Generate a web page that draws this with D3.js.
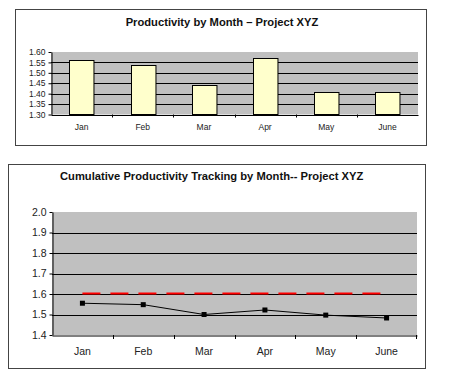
<!DOCTYPE html>
<html>
<head>
<meta charset="utf-8">
<script src="https://cdn.jsdelivr.net/npm/d3@7"></script>
<style>
  body { margin: 0; background: #fff; }
  svg { display: block; font-family: "Liberation Sans", Arial, sans-serif; }
</style>
</head>
<body>
<svg id="chart" width="450" height="372"></svg>
<script>
// data
const months = ["Jan", "Feb", "Mar", "Apr", "May", "June"];
const monthlyProductivity = [1.56, 1.54, 1.44, 1.57, 1.41, 1.41];
const cumulativeProductivity = [1.555, 1.548, 1.50, 1.522, 1.497, 1.483];
const targetValue = 1.6;
const topTicks = [1.30, 1.35, 1.40, 1.45, 1.50, 1.55, 1.60];
const bottomTicks = [1.4, 1.5, 1.6, 1.7, 1.8, 1.9, 2.0];

const svg = d3.select("#chart");

// ---- top chart: bars ----
function drawBarChart() {
  const frame = {x: 15.5, y: 9.5, w: 411, h: 136};
  const plot = {left: 51, right: 418, top: 52, bottom: 114.5};

  svg.append("rect")
    .attr("x", frame.x).attr("y", frame.y)
    .attr("width", frame.w).attr("height", frame.h)
    .attr("fill", "#fff").attr("stroke", "#444").attr("stroke-width", 1);

  svg.append("text")
    .attr("x", 222).attr("y", 26)
    .attr("text-anchor", "middle")
    .attr("font-size", 11.2).attr("font-weight", "bold")
    .attr("fill", "#111")
    .text("Productivity by Month \u2013 Project XYZ");

  const x = d3.scaleBand().domain(months).range([plot.left, plot.right]);
  const y = d3.scaleLinear().domain([1.30, 1.60]).range([plot.bottom, plot.top]);

  const g = svg.append("g");
  g.append("rect")
    .attr("x", plot.left).attr("y", plot.top)
    .attr("width", plot.right - plot.left).attr("height", plot.bottom - plot.top)
    .attr("fill", "#c0c0c0");

  g.selectAll(".grid").data(topTicks.slice(1, -1)).enter().append("line")
    .attr("x1", plot.left).attr("x2", plot.right)
    .attr("y1", d => Math.round(y(d)) + 0.5).attr("y2", d => Math.round(y(d)) + 0.5)
    .attr("stroke", "#000");

  const barW = x.bandwidth() * 0.4;
  g.selectAll(".bar").data(monthlyProductivity).enter().append("rect")
    .attr("x", (d, i) => Math.round(x(months[i]) + (x.bandwidth() - barW) / 2) + 0.5)
    .attr("y", d => Math.round(y(d)) + 0.5)
    .attr("width", barW)
    .attr("height", d => plot.bottom - Math.round(y(d)) - 0.5)
    .attr("fill", "#ffffcc").attr("stroke", "#000");

  const yAxis = g.append("g")
    .attr("transform", `translate(${plot.left + 0.5},0)`)
    .call(d3.axisLeft(y).tickValues(topTicks).tickFormat(d3.format(".2f")).tickSize(3).tickSizeOuter(0));
  yAxis.selectAll("text").attr("font-size", 8.5).attr("fill", "#222").attr("font-family", "inherit");

  const xAxis = g.append("g")
    .attr("transform", `translate(0,${plot.bottom + 0.5})`)
    .call(d3.axisBottom(x).tickSize(0).tickPadding(9).tickSizeOuter(0));
  xAxis.selectAll("text").attr("font-size", 8.5).attr("fill", "#222").attr("font-family", "inherit");
  // boundary ticks
  g.selectAll(".xt").data(months.slice(1)).enter().append("line")
    .attr("x1", d => Math.round(x(d)) + 0.5).attr("x2", d => Math.round(x(d)) + 0.5)
    .attr("y1", plot.bottom).attr("y2", plot.bottom + 3)
    .attr("stroke", "#000");
  g.selectAll(".domain").attr("stroke", "#000");
}

// ---- bottom chart: cumulative line ----
function drawLineChart() {
  const frame = {x: 8.5, y: 164.5, w: 417, h: 204};
  const plot = {left: 52, right: 417, top: 212, bottom: 335};

  svg.append("rect")
    .attr("x", frame.x).attr("y", frame.y)
    .attr("width", frame.w).attr("height", frame.h)
    .attr("fill", "#fff").attr("stroke", "#444").attr("stroke-width", 1);

  svg.append("text")
    .attr("x", 60).attr("y", 180)
    .attr("font-size", 11.2).attr("font-weight", "bold")
    .attr("fill", "#111")
    .text("Cumulative Productivity Tracking by Month-- Project XYZ");

  const x = d3.scaleBand().domain(months).range([plot.left, plot.right]);
  const y = d3.scaleLinear().domain([1.4, 2.0]).range([plot.bottom, plot.top]);
  const cx = m => x(m) + x.bandwidth() / 2;

  const g = svg.append("g");
  g.append("rect")
    .attr("x", plot.left).attr("y", plot.top)
    .attr("width", plot.right - plot.left).attr("height", plot.bottom - plot.top)
    .attr("fill", "#c0c0c0");

  g.selectAll(".grid").data(bottomTicks.slice(1, -1)).enter().append("line")
    .attr("x1", plot.left).attr("x2", plot.right)
    .attr("y1", d => Math.round(y(d)) + 0.5).attr("y2", d => Math.round(y(d)) + 0.5)
    .attr("stroke", "#000");

  // target line
  g.append("line")
    .attr("x1", cx(months[0])).attr("x2", cx(months[months.length - 1]))
    .attr("y1", Math.round(y(targetValue)) - 0.5).attr("y2", Math.round(y(targetValue)) - 0.5)
    .attr("stroke", "#ff0000").attr("stroke-width", 2)
    .attr("stroke-dasharray", "18,10");

  const line = d3.line()
    .x((d, i) => cx(months[i]))
    .y(d => y(d));
  g.append("path")
    .datum(cumulativeProductivity)
    .attr("d", line)
    .attr("fill", "none").attr("stroke", "#000").attr("stroke-width", 1);

  g.selectAll(".pt").data(cumulativeProductivity).enter().append("rect")
    .attr("x", (d, i) => cx(months[i]) - 2.5)
    .attr("y", d => y(d) - 2.5)
    .attr("width", 5).attr("height", 5)
    .attr("fill", "#000");

  const yAxis = g.append("g")
    .attr("transform", `translate(${plot.left + 0.5},0)`)
    .call(d3.axisLeft(y).tickValues(bottomTicks).tickFormat(d3.format(".1f")).tickSize(3).tickSizeOuter(0));
  yAxis.selectAll("text").attr("font-size", 10.5).attr("fill", "#222").attr("font-family", "inherit");

  const xAxis = g.append("g")
    .attr("transform", `translate(0,${plot.bottom + 0.5})`)
    .call(d3.axisBottom(x).tickSize(0).tickPadding(12).tickSizeOuter(0));
  xAxis.selectAll("text").attr("font-size", 10.5).attr("fill", "#222").attr("font-family", "inherit");
  g.selectAll(".xt").data(months.slice(1).concat([null])).enter().append("line")
    .attr("x1", d => d ? Math.round(x(d)) + 0.5 : plot.right - 0.5)
    .attr("x2", d => d ? Math.round(x(d)) + 0.5 : plot.right - 0.5)
    .attr("y1", plot.bottom).attr("y2", plot.bottom + 4)
    .attr("stroke", "#000");
  g.selectAll(".domain").attr("stroke", "#000");
}

drawBarChart();
drawLineChart();
</script>
</body>
</html>
